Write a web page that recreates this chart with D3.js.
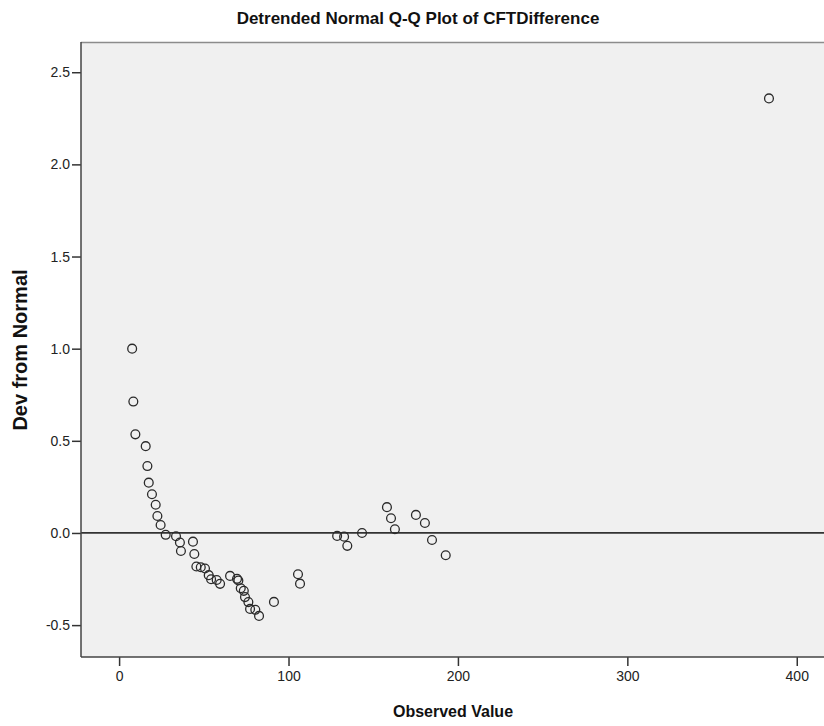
<!DOCTYPE html>
<html>
<head>
<meta charset="utf-8">
<script src="https://cdn.jsdelivr.net/npm/d3@7"></script>
<style>
  html, body { margin: 0; padding: 0; background: #ffffff; }
  svg { display: block; }
  text { font-family: "Liberation Sans Narrow", "Arial Narrow", "Liberation Sans", Arial, sans-serif; }
</style>
</head>
<body>
<svg id="chart" width="824" height="726"></svg>
<script>
// ---- Data ----
const title = "Detrended Normal Q-Q Plot of CFTDifference";
const xLabel = "Observed Value";
const yLabel = "Dev from Normal";

const observed = [7.7, 8.4, 9.6, 15.7, 16.7, 17.5, 19.4, 21.6, 22.6, 24.5, 27.5, 33.6,
  35.9, 36.5, 43.6, 44.4, 45.6, 48.2, 50.7, 52.9, 54.3, 57.6, 59.6, 65.5, 69.6, 70.4,
  71.8, 73.6, 74.3, 76.3, 77.3, 80.4, 82.6, 91.4, 105.6, 106.8, 128.7, 132.8, 134.7,
  143.4, 158.1, 160.5, 162.8, 175.2, 180.5, 184.7, 192.8, 383.6];
const devFromNormal = [1.00, 0.713, 0.535, 0.471, 0.363, 0.273, 0.210, 0.153, 0.092, 0.043, -0.010, -0.018,
  -0.052, -0.098, -0.047, -0.114, -0.182, -0.186, -0.193, -0.229, -0.251, -0.255, -0.276, -0.233, -0.249, -0.258,
  -0.300, -0.314, -0.348, -0.375, -0.412, -0.417, -0.450, -0.374, -0.224, -0.275, -0.016, -0.020, -0.070,
  0.000, 0.140, 0.080, 0.020, 0.098, 0.054, -0.038, -0.121, 2.358];

const xTicks = [0, 100, 200, 300, 400];
const yTicks = [-0.5, 0.0, 0.5, 1.0, 1.5, 2.0, 2.5];

// ---- Layout ----
const plot = { left: 81, top: 42, right: 822, bottom: 657 };
const svg = d3.select("#chart");

const x = d3.scaleLinear().domain([-22.49, 414.9]).range([plot.left, plot.right]);
const y = d3.scaleLinear().domain([-0.673, 2.664]).range([plot.bottom, plot.top]);

// plot background
svg.append("rect")
  .attr("x", plot.left).attr("y", plot.top)
  .attr("width", 830 - plot.left).attr("height", plot.bottom - plot.top)
  .attr("fill", "#f0f0f0");

// top frame line
svg.append("line")
  .attr("x1", plot.left).attr("x2", 830)
  .attr("y1", plot.top + 0.5).attr("y2", plot.top + 0.5)
  .attr("stroke", "#8c8c8c").attr("stroke-width", 1.5);

// zero reference line
svg.append("line")
  .attr("x1", plot.left).attr("x2", 830)
  .attr("y1", y(0)).attr("y2", y(0))
  .attr("stroke", "#333333").attr("stroke-width", 1.8);

// axes
const fmt = d => d3.format(".1f")(d).replace("\u2212", "-");
const yAxis = d3.axisLeft(y).tickValues(yTicks).tickFormat(fmt).tickSize(9).tickPadding(2);
const xAxis = d3.axisBottom(x).tickValues(xTicks).tickFormat(d3.format("d")).tickSize(9).tickPadding(5);

const gy = svg.append("g").attr("transform", `translate(${plot.left},0)`).call(yAxis);
const gx = svg.append("g").attr("transform", `translate(0,${plot.bottom})`).call(xAxis);

gy.select(".domain").remove();
gx.select(".domain").remove();
[gy, gx].forEach(g => {
  g.selectAll(".tick line").attr("stroke", "#333").attr("stroke-width", 1.5);
  g.selectAll(".tick text").attr("fill", "#222").style("font-size", "14px")
    .style("font-family", "'Liberation Sans Narrow', 'Arial Narrow', 'Liberation Sans', sans-serif");
});

// left & bottom frame
svg.append("line")
  .attr("x1", plot.left).attr("x2", plot.left)
  .attr("y1", plot.top).attr("y2", plot.bottom)
  .attr("stroke", "#444").attr("stroke-width", 1.5);
svg.append("line")
  .attr("x1", plot.left).attr("x2", 830)
  .attr("y1", plot.bottom).attr("y2", plot.bottom)
  .attr("stroke", "#444").attr("stroke-width", 1.5);

// points
svg.append("g").selectAll("circle")
  .data(observed.map((v, i) => [v, devFromNormal[i]]))
  .join("circle")
  .attr("cx", d => x(d[0]))
  .attr("cy", d => y(d[1]))
  .attr("r", 4.4)
  .attr("fill", "none")
  .attr("stroke", "#2a2a2a")
  .attr("stroke-width", 1.3);

// title
svg.append("text")
  .attr("x", 418).attr("y", 24)
  .attr("text-anchor", "middle")
  .style("font-size", "17px").style("font-weight", "bold").attr("fill", "#111")
  .text(title);

// x label
svg.append("text")
  .attr("x", 453).attr("y", 717)
  .attr("text-anchor", "middle")
  .style("font-size", "16px").style("font-weight", "bold").attr("fill", "#111")
  .text(xLabel);

// y label
svg.append("text")
  .attr("transform", `translate(27,350) rotate(-90)`)
  .attr("text-anchor", "middle")
  .style("font-size", "20px").style("font-weight", "bold").attr("fill", "#111")
  .text(yLabel);
</script>
</body>
</html>
